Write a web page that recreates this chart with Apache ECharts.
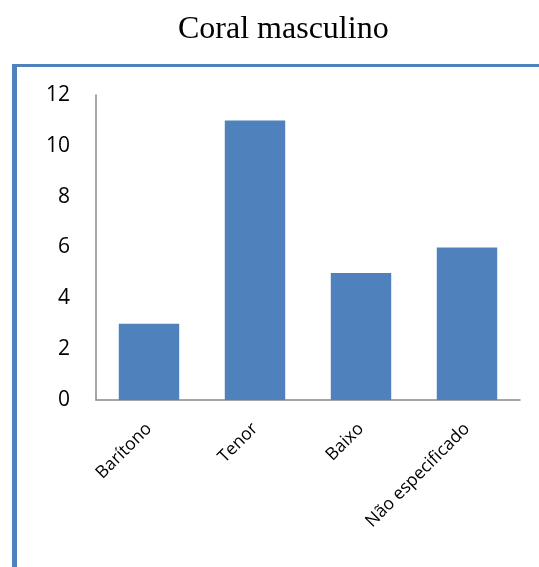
<!DOCTYPE html>
<html>
<head>
<meta charset="utf-8">
<script src="https://cdn.jsdelivr.net/npm/echarts@6/dist/echarts.min.js"></script>
<style>html,body{margin:0;padding:0;background:#fff;}#c{width:539px;height:567px;}</style>
</head>
<body>
<div id="c"></div>
<script>
const titleText = 'Coral masculino';
const categories = ['Barítono', 'Tenor', 'Baixo', 'Não especificado'];
const values = [3, 11, 5, 6];
const yTicks = { min: 0, max: 12, interval: 2 };

const chart = echarts.init(document.getElementById('c'));
chart.setOption({
  animation: false,
  backgroundColor: '#fff',
  title: {
    text: titleText, left: 178, top: 14, padding: 0,
    textStyle: { fontFamily: 'Liberation Serif', fontSize: 32, fontWeight: 'normal', color: '#000' }
  },
  graphic: [
    { type: 'line', shape: { x1: 12, y1: 65.5, x2: 539, y2: 65.5 }, style: { stroke: '#4F81BD', lineWidth: 3 } },
    { type: 'line', shape: { x1: 14.5, y1: 64, x2: 14.5, y2: 567 }, style: { stroke: '#4F81BD', lineWidth: 5 } }
  ],
  grid: { left: 96, right: 19, top: 95, bottom: 167 },
  xAxis: {
    type: 'category', data: categories,
    axisLine: { lineStyle: { color: '#898989', width: 1.5 } },
    axisTick: { show: false },
    axisLabel: { rotate: 45, interval: 0, margin: 26, fontFamily: 'Open Sans', fontSize: 17.5, color: '#000' }
  },
  yAxis: {
    type: 'value', min: yTicks.min, max: yTicks.max, interval: yTicks.interval,
    axisLine: { show: true, lineStyle: { color: '#898989', width: 1.5 } },
    axisTick: { show: false },
    splitLine: { show: false },
    axisLabel: { margin: 26, fontFamily: 'Open Sans', fontSize: 21, color: '#000' }
  },
  series: [{
    type: 'bar', data: values, barWidth: '57%',
    itemStyle: { color: '#4F81BD' }
  }]
});
</script>
</body>
</html>
